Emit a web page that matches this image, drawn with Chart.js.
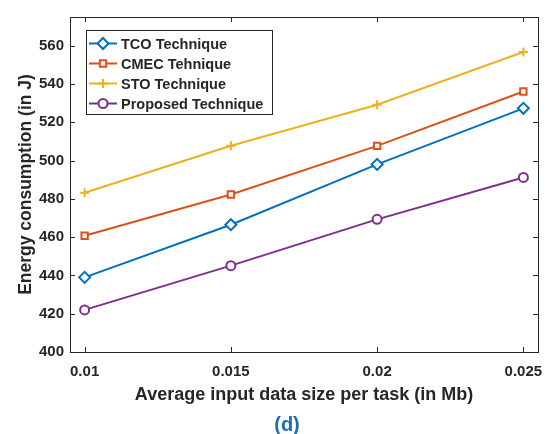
<!DOCTYPE html>
<html>
<head>
<meta charset="utf-8">
<script src="https://cdn.jsdelivr.net/npm/chart.js@4/dist/chart.umd.min.js"></script>
<style>
  html, body { margin: 0; padding: 0; background: #fff; }
  #wrap { width: 551px; height: 434px; }
</style>
</head>
<body>
<div id="wrap"><canvas id="chart" width="551" height="434"></canvas></div>
<script>
(function () {
    "use strict";

    // data
    const inputSizes = [0.01, 0.015, 0.02, 0.025];
    const tcoValues = [439, 466.5, 498, 527.3];
    const cmecValues = [460.7, 482.3, 507.7, 536.1];
    const stoValues = [483.2, 507.7, 529.2, 556.7];
    const proposedValues = [422, 445.1, 469.3, 491.2];

    const xTicks = [0.01, 0.015, 0.02, 0.025];
    const xTickLabels = ["0.01", "0.015", "0.02", "0.025"];
    const yTicks = [400, 420, 440, 460, 480, 500, 520, 540, 560];

    const axisColor = "#262626";
    const fontFamily = "'Liberation Sans', Arial, Helvetica, sans-serif";

    const toPoints = (vals) => vals.map((v, i) => ({ x: inputSizes[i], y: v }));

    function series(label, values, color, style, radius) {
        return {
            label: label,
            data: toPoints(values),
            borderColor: color,
            backgroundColor: "#ffffff",
            borderWidth: 2,
            pointStyle: style,
            pointRadius: radius,
            pointBorderWidth: 2,
            pointBorderColor: color,
            pointBackgroundColor: "#ffffff",
            tension: 0,
        };
    }

    // box, inner ticks on all four sides, legend and caption
    const framePlugin = {
        id: "frame",
        beforeDatasetsDraw(chart) {
            const { ctx, chartArea: a, scales } = chart;
            ctx.save();
            ctx.strokeStyle = axisColor;
            ctx.lineWidth = 1;
            ctx.beginPath();
            xTicks.forEach((v) => {
                const px = Math.round(scales.x.getPixelForValue(v)) + 0.5;
                ctx.moveTo(px, a.bottom); ctx.lineTo(px, a.bottom - 5);
                ctx.moveTo(px, a.top); ctx.lineTo(px, a.top + 5);
            });
            yTicks.forEach((v) => {
                const py = Math.round(scales.y.getPixelForValue(v)) + 0.5;
                ctx.moveTo(a.left, py); ctx.lineTo(a.left + 5, py);
                ctx.moveTo(a.right, py); ctx.lineTo(a.right - 5, py);
            });
            ctx.stroke();
            ctx.strokeRect(Math.round(a.left) + 0.5, Math.round(a.top) + 0.5,
                Math.round(a.right - a.left), Math.round(a.bottom - a.top));
            ctx.restore();
        },
        afterDraw(chart) {
            const { ctx } = chart;
            ctx.save();
            // legend
            const lx = 86.5, ly = 30.5, lw = 186, lh = 84;
            ctx.fillStyle = "#ffffff";
            ctx.fillRect(lx, ly, lw, lh);
            ctx.strokeStyle = axisColor;
            ctx.lineWidth = 1;
            ctx.strokeRect(lx, ly, lw, lh);
            chart.data.datasets.forEach((ds, i) => {
                const y = 43.5 + i * 20;
                ctx.strokeStyle = ds.borderColor;
                ctx.lineWidth = 2;
                ctx.beginPath();
                ctx.moveTo(89, y); ctx.lineTo(117, y);
                ctx.stroke();
                ctx.fillStyle = "#ffffff";
                ctx.strokeStyle = ds.borderColor;
                ctx.lineWidth = 2;
                Chart.helpers.drawPoint(ctx, {
                    pointStyle: ds.pointStyle, radius: ds.pointRadius, borderWidth: 2, rotation: 0,
                }, 103, y);
                ctx.fillStyle = axisColor;
                ctx.font = "bold 14.5px " + fontFamily;
                ctx.textBaseline = "middle";
                ctx.textAlign = "left";
                ctx.fillText(ds.label, 121, y + 1);
            });
            // caption
            ctx.fillStyle = "#1f6bb0";
            ctx.font = "bold 20px " + fontFamily;
            ctx.textAlign = "center";
            ctx.textBaseline = "middle";
            ctx.fillText("(d)", 287, 425);
            ctx.restore();
        },
    };

    const ctx = document.getElementById("chart").getContext("2d");
    new Chart(ctx, {
        type: "line",
        data: {
            datasets: [
                series("TCO Technique", tcoValues, "#0072BD", "rectRot", 5.5),
                series("CMEC Tehnique", cmecValues, "#D95319", "rect", 4.5),
                series("STO Technique", stoValues, "#EDB120", "cross", 4.5),
                series("Proposed Technique", proposedValues, "#7E2F8E", "circle", 4.5),
            ],
        },
        options: {
            responsive: false,
            animation: false,
            devicePixelRatio: 1,
            layout: { padding: { left: 0, right: 13, top: 17, bottom: 28 } },
            plugins: {
                legend: { display: false },
                tooltip: { enabled: false },
            },
            scales: {
                x: {
                    type: "linear",
                    min: 0.0095,
                    max: 0.0255,
                    afterBuildTicks: (s) => { s.ticks = xTicks.map((v) => ({ value: v })); },
                    afterFit: (s) => { s.height = 54; s.paddingRight = 0; s.paddingLeft = 0; },
                    grid: { display: false, drawTicks: false },
                    border: { display: false },
                    ticks: {
                        padding: 11,
                        color: axisColor,
                        maxRotation: 0,
                        font: { family: fontFamily, size: 15, weight: "bold" },
                        callback: (value) => xTickLabels[xTicks.indexOf(value)],
                    },
                    title: {
                        display: true,
                        text: "Average input data size per task (in Mb)",
                        color: axisColor,
                        padding: 0,
                        font: { family: fontFamily, size: 18, weight: "bold" },
                    },
                },
                y: {
                    min: 400,
                    max: 575,
                    afterBuildTicks: (s) => { s.ticks = yTicks.map((v) => ({ value: v })); },
                    afterFit: (s) => { s.width = 70; s.paddingTop = 0; s.paddingBottom = 0; },
                    grid: { display: false, drawTicks: false },
                    border: { display: false },
                    ticks: {
                        padding: 6,
                        color: axisColor,
                        font: { family: fontFamily, size: 15, weight: "bold" },
                    },
                    title: {
                        display: true,
                        text: "Energy consumption (in J)",
                        color: axisColor,
                        padding: { top: 16, bottom: 0 },
                        font: { family: fontFamily, size: 17.5, weight: "bold" },
                    },
                },
            },
        },
        plugins: [framePlugin],
    });
})();
</script>
</body>
</html>
